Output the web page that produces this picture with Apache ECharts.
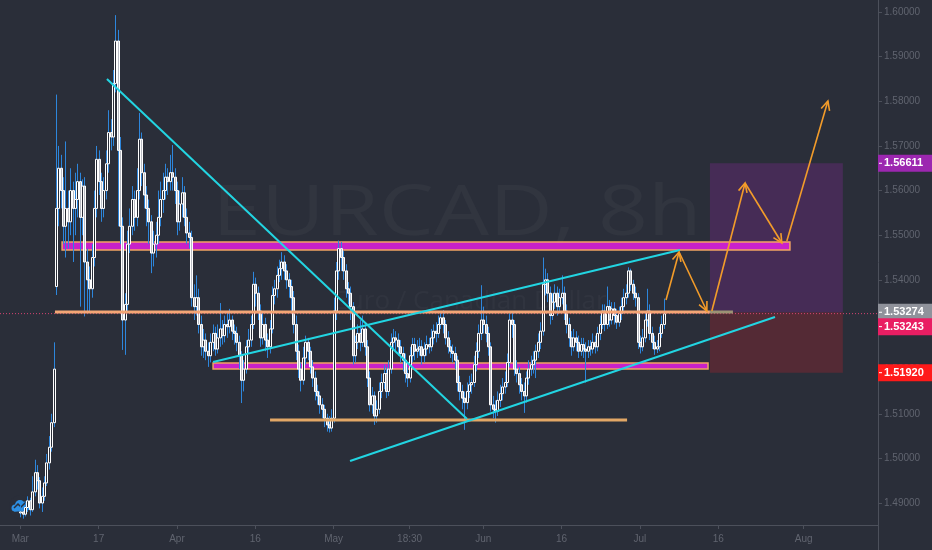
<!DOCTYPE html>
<html><head><meta charset="utf-8">
<script src="https://cdn.jsdelivr.net/npm/echarts@6/dist/echarts.min.js"></script>
<style>html,body{margin:0;padding:0;background:#2a2e39;}#c{width:932px;height:550px;}</style>
</head><body><div id="c"></div>
<script>
// ---- EURCAD 8h candles (index = 8h bar, weekends skipped) ----
const opens = [
1.4878,1.4880,1.4875,1.4890,1.4905,1.4885,1.4925,1.4968,1.4950,1.4900,
1.4915,1.4945,1.4990,1.5025,1.5080,1.5385,1.5560,1.5650,1.5600,1.5520,
1.5560,1.5530,1.5600,1.5560,1.5580,1.5620,1.5540,1.5610,1.5440,1.5400,
1.5380,1.5450,1.5560,1.5670,1.5620,1.5560,1.5600,1.5660,1.5730,1.5720,
1.5840,1.5935,1.5690,1.5520,1.5310,1.5345,1.5480,1.5520,1.5580,1.5540,
1.5600,1.5715,1.5640,1.5590,1.5560,1.5530,1.5460,1.5480,1.5500,1.5540,
1.5580,1.5600,1.5630,1.5620,1.5640,1.5630,1.5600,1.5530,1.5570,1.5595,
1.5540,1.5505,1.5495,1.5360,1.5340,1.5360,1.5300,1.5250,1.5265,1.5240,
1.5230,1.5260,1.5280,1.5245,1.5270,1.5290,1.5275,1.5300,1.5295,1.5310,
1.5285,1.5280,1.5260,1.5230,1.5175,1.5200,1.5250,1.5265,1.5300,1.5390,
1.5370,1.5330,1.5270,1.5300,1.5265,1.5250,1.5290,1.5365,1.5380,1.5410,
1.5425,1.5440,1.5420,1.5400,1.5385,1.5360,1.5300,1.5240,1.5200,1.5175,
1.5225,1.5260,1.5240,1.5205,1.5180,1.5150,1.5140,1.5120,1.5110,1.5090,
1.5075,1.5068,1.5090,1.5330,1.5420,1.5470,1.5450,1.5420,1.5380,1.5370,
1.5340,1.5230,1.5260,1.5280,1.5260,1.5290,1.5250,1.5180,1.5120,1.5140,
1.5095,1.5110,1.5150,1.5170,1.5190,1.5150,1.5200,1.5260,1.5270,1.5265,
1.5250,1.5235,1.5220,1.5190,1.5180,1.5230,1.5255,1.5240,1.5245,1.5250,
1.5230,1.5245,1.5255,1.5250,1.5270,1.5285,1.5280,1.5300,1.5315,1.5300,
1.5270,1.5250,1.5240,1.5235,1.5220,1.5170,1.5150,1.5135,1.5125,1.5150,
1.5165,1.5170,1.5210,1.5240,1.5280,1.5310,1.5300,1.5280,1.5250,1.5120,
1.5110,1.5105,1.5130,1.5145,1.5160,1.5170,1.5215,1.5310,1.5300,1.5200,
1.5190,1.5165,1.5150,1.5140,1.5180,1.5200,1.5210,1.5220,1.5240,1.5260,
1.5285,1.5390,1.5400,1.5370,1.5320,1.5350,1.5370,1.5340,1.5360,1.5370,
1.5330,1.5300,1.5270,1.5250,1.5270,1.5260,1.5240,1.5255,1.5245,1.5240,
1.5250,1.5245,1.5260,1.5250,1.5280,1.5300,1.5330,1.5300,1.5340,1.5310,
1.5335,1.5320,1.5305,1.5325,1.5340,1.5360,1.5370,1.5420,1.5390,1.5370,
1.5360,1.5260,1.5250,1.5270,1.5310,1.5330,1.5280,1.5260,1.5245,1.5250,
1.5280,1.5300];
const closes = [
1.4880,1.4875,1.4890,1.4905,1.4885,1.4925,1.4968,1.4950,1.4900,1.4915,
1.4945,1.4990,1.5025,1.5080,1.5200,1.5560,1.5650,1.5600,1.5520,1.5560,
1.5530,1.5600,1.5560,1.5580,1.5620,1.5540,1.5610,1.5440,1.5400,1.5380,
1.5450,1.5560,1.5670,1.5620,1.5560,1.5600,1.5660,1.5730,1.5720,1.5840,
1.5935,1.5690,1.5520,1.5310,1.5345,1.5480,1.5520,1.5580,1.5540,1.5600,
1.5715,1.5640,1.5590,1.5560,1.5530,1.5460,1.5480,1.5500,1.5540,1.5580,
1.5600,1.5630,1.5620,1.5640,1.5630,1.5600,1.5530,1.5570,1.5595,1.5540,
1.5505,1.5495,1.5360,1.5340,1.5360,1.5300,1.5250,1.5265,1.5240,1.5230,
1.5260,1.5280,1.5245,1.5270,1.5290,1.5275,1.5300,1.5295,1.5310,1.5285,
1.5280,1.5260,1.5230,1.5175,1.5200,1.5250,1.5265,1.5300,1.5390,1.5370,
1.5330,1.5270,1.5300,1.5265,1.5250,1.5290,1.5365,1.5380,1.5410,1.5425,
1.5440,1.5420,1.5400,1.5385,1.5360,1.5300,1.5240,1.5200,1.5175,1.5225,
1.5260,1.5240,1.5205,1.5180,1.5150,1.5140,1.5120,1.5110,1.5090,1.5075,
1.5068,1.5090,1.5330,1.5420,1.5470,1.5450,1.5420,1.5380,1.5370,1.5340,
1.5230,1.5260,1.5280,1.5260,1.5290,1.5250,1.5180,1.5120,1.5140,1.5095,
1.5110,1.5150,1.5170,1.5190,1.5150,1.5200,1.5260,1.5270,1.5265,1.5250,
1.5235,1.5220,1.5190,1.5180,1.5230,1.5255,1.5240,1.5245,1.5250,1.5230,
1.5245,1.5255,1.5250,1.5270,1.5285,1.5280,1.5300,1.5315,1.5300,1.5270,
1.5250,1.5240,1.5235,1.5220,1.5170,1.5150,1.5135,1.5125,1.5150,1.5165,
1.5170,1.5210,1.5240,1.5280,1.5310,1.5300,1.5280,1.5250,1.5120,1.5110,
1.5105,1.5130,1.5145,1.5160,1.5170,1.5215,1.5310,1.5300,1.5200,1.5190,
1.5165,1.5150,1.5140,1.5180,1.5200,1.5210,1.5220,1.5240,1.5260,1.5285,
1.5390,1.5400,1.5370,1.5320,1.5350,1.5370,1.5340,1.5360,1.5370,1.5330,
1.5300,1.5270,1.5250,1.5270,1.5260,1.5240,1.5255,1.5245,1.5240,1.5250,
1.5245,1.5260,1.5250,1.5280,1.5300,1.5330,1.5300,1.5340,1.5310,1.5335,
1.5320,1.5305,1.5325,1.5340,1.5360,1.5370,1.5420,1.5390,1.5370,1.5360,
1.5260,1.5250,1.5270,1.5310,1.5330,1.5280,1.5260,1.5245,1.5250,1.5280,
1.5300,1.5324];
const lows = [
1.4868,1.4865,1.4870,1.4880,1.4872,1.4880,1.4915,1.4930,1.4888,1.4880,
1.4905,1.4938,1.4975,1.5015,1.5070,1.5366,1.5520,1.5560,1.5480,1.5450,
1.5470,1.5500,1.5440,1.5500,1.5540,1.5340,1.5500,1.5318,1.5330,1.5330,
1.5360,1.5430,1.5540,1.5590,1.5530,1.5540,1.5580,1.5640,1.5690,1.5700,
1.5820,1.5520,1.5480,1.5243,1.5232,1.5330,1.5460,1.5500,1.5510,1.5520,
1.5580,1.5610,1.5560,1.5520,1.5480,1.5415,1.5430,1.5450,1.5480,1.5520,
1.5550,1.5580,1.5590,1.5600,1.5600,1.5570,1.5500,1.5510,1.5540,1.5520,
1.5480,1.5470,1.5340,1.5310,1.5320,1.5280,1.5230,1.5225,1.5220,1.5205,
1.5215,1.5240,1.5230,1.5235,1.5250,1.5255,1.5260,1.5270,1.5280,1.5265,
1.5255,1.5240,1.5200,1.5124,1.5150,1.5190,1.5235,1.5250,1.5290,1.5340,
1.5310,1.5250,1.5255,1.5240,1.5225,1.5235,1.5280,1.5345,1.5360,1.5395,
1.5400,1.5400,1.5380,1.5360,1.5330,1.5280,1.5220,1.5180,1.5150,1.5165,
1.5210,1.5220,1.5190,1.5160,1.5130,1.5120,1.5100,1.5090,1.5070,1.5060,
1.5058,1.5060,1.5080,1.5310,1.5400,1.5420,1.5400,1.5360,1.5345,1.5310,
1.5210,1.5215,1.5245,1.5240,1.5250,1.5230,1.5160,1.5105,1.5100,1.5075,
1.5080,1.5100,1.5135,1.5155,1.5135,1.5140,1.5190,1.5245,1.5240,1.5230,
1.5215,1.5195,1.5170,1.5160,1.5170,1.5215,1.5220,1.5225,1.5230,1.5210,
1.5215,1.5230,1.5235,1.5240,1.5255,1.5260,1.5270,1.5290,1.5280,1.5255,
1.5235,1.5225,1.5215,1.5200,1.5150,1.5130,1.5110,1.5064,1.5110,1.5135,
1.5145,1.5160,1.5195,1.5225,1.5265,1.5280,1.5260,1.5230,1.5105,1.5090,
1.5080,1.5095,1.5115,1.5130,1.5145,1.5160,1.5205,1.5270,1.5185,1.5170,
1.5145,1.5130,1.5102,1.5125,1.5165,1.5185,1.5190,1.5180,1.5225,1.5245,
1.5275,1.5365,1.5350,1.5300,1.5310,1.5335,1.5320,1.5330,1.5345,1.5310,
1.5280,1.5250,1.5230,1.5240,1.5240,1.5225,1.5230,1.5225,1.5170,1.5225,
1.5230,1.5235,1.5235,1.5240,1.5265,1.5290,1.5285,1.5290,1.5295,1.5300,
1.5300,1.5290,1.5295,1.5310,1.5325,1.5345,1.5360,1.5375,1.5355,1.5340,
1.5245,1.5235,1.5240,1.5260,1.5295,1.5265,1.5245,1.5232,1.5236,1.5240,
1.5270,1.5290];
const highs = [
1.4895,1.4890,1.4900,1.4915,1.4912,1.4960,1.4997,1.4985,1.4958,1.4935,
1.4960,1.5010,1.5050,1.5100,1.5260,1.5815,1.5700,1.5680,1.5630,1.5710,
1.5600,1.5650,1.5620,1.5640,1.5660,1.5640,1.5625,1.5630,1.5470,1.5430,
1.5480,1.5600,1.5700,1.5690,1.5640,1.5630,1.5690,1.5780,1.5760,1.5870,
1.5993,1.5960,1.5720,1.5540,1.5370,1.5510,1.5560,1.5610,1.5600,1.5650,
1.5774,1.5730,1.5660,1.5610,1.5580,1.5545,1.5510,1.5530,1.5600,1.5620,
1.5640,1.5660,1.5650,1.5680,1.5702,1.5650,1.5620,1.5600,1.5630,1.5610,
1.5560,1.5530,1.5510,1.5390,1.5410,1.5380,1.5320,1.5290,1.5280,1.5260,
1.5280,1.5300,1.5295,1.5300,1.5348,1.5310,1.5320,1.5330,1.5335,1.5320,
1.5300,1.5295,1.5275,1.5240,1.5220,1.5265,1.5290,1.5320,1.5418,1.5405,
1.5385,1.5345,1.5330,1.5315,1.5280,1.5310,1.5385,1.5400,1.5430,1.5445,
1.5462,1.5455,1.5435,1.5415,1.5400,1.5375,1.5320,1.5255,1.5215,1.5250,
1.5275,1.5270,1.5250,1.5220,1.5195,1.5165,1.5150,1.5135,1.5120,1.5100,
1.5095,1.5110,1.5360,1.5440,1.5488,1.5485,1.5465,1.5435,1.5395,1.5385,
1.5350,1.5275,1.5300,1.5310,1.5320,1.5300,1.5265,1.5195,1.5160,1.5150,
1.5130,1.5170,1.5190,1.5210,1.5205,1.5220,1.5280,1.5290,1.5285,1.5280,
1.5265,1.5250,1.5235,1.5205,1.5250,1.5270,1.5270,1.5265,1.5270,1.5265,
1.5260,1.5275,1.5270,1.5290,1.5300,1.5305,1.5320,1.5330,1.5332,1.5310,
1.5285,1.5265,1.5255,1.5250,1.5230,1.5185,1.5165,1.5150,1.5170,1.5185,
1.5190,1.5230,1.5260,1.5300,1.5388,1.5340,1.5320,1.5295,1.5260,1.5140,
1.5130,1.5150,1.5165,1.5180,1.5195,1.5235,1.5325,1.5330,1.5310,1.5220,
1.5205,1.5180,1.5170,1.5195,1.5220,1.5230,1.5240,1.5255,1.5280,1.5305,
1.5450,1.5425,1.5415,1.5385,1.5370,1.5390,1.5385,1.5380,1.5410,1.5385,
1.5345,1.5315,1.5285,1.5290,1.5285,1.5275,1.5270,1.5270,1.5260,1.5265,
1.5265,1.5280,1.5275,1.5295,1.5320,1.5345,1.5345,1.5385,1.5355,1.5350,
1.5350,1.5335,1.5340,1.5360,1.5380,1.5390,1.5428,1.5425,1.5400,1.5385,
1.5370,1.5275,1.5290,1.5330,1.5380,1.5345,1.5295,1.5275,1.5265,1.5295,
1.5320,1.5358];

// ---- axis ticks (bar index of the labelled session) ----
const xTickBars   = [0, 33, 66, 99, 132, 164, 195, 228, 261, 294, 330];
const xTickLabels = ['Mar','17','Apr','16','May','18:30','Jun','16','Jul','16','Aug'];
const yTicks = [1.49,1.50,1.51,1.52,1.53,1.54,1.55,1.56,1.57,1.58,1.59,1.60];

// ---- drawings (bar index, price) ----
const trendDown  = [[36.5, 1.58499], [188.2, 1.50883]];
const trendUpHi  = [[81.2, 1.52160], [277.9, 1.54668]];
const trendUpLo  = [[138.9, 1.49942], [317.9, 1.53168]];
const bandHigh   = [17.6, 324.2, 1.54668, 1.54848];
const bandLow    = [81.2, 289.7, 1.52003, 1.52137];
const levelMid   = [[14.6, 1.5328], [290.5, 1.5328]];
const levelMidEnd= [[290.5, 1.5328], [300.2, 1.5328]];
const levelLow   = [[105.2, 1.5086], [255.6, 1.5086]];
const posTool    = [290.5, 346.5];
const posTarget  = 1.56611, posEntry = 1.53274, posStop = 1.51920;
const lastPrice  = 1.53243;
const arrows = [
  [272.0, 1.53548, 277.5, 1.54624],
  [277.5, 1.54624, 289.2, 1.53302],
  [291.3, 1.53302, 305.3, 1.56169],
  [305.3, 1.56169, 320.8, 1.54825],
  [322.9, 1.54870, 340.2, 1.58006]
];
const priceTags = [posTarget, posEntry, lastPrice, posStop];

// ---- styles ----
const BG = '#2a2e39';
const tagColors = ['#9c27b0', '#8f929b', '#e91e63', '#ff1a1a'];
const tagShift  = [0, 0, 13, 0];
const X_MIN = -8.55, X_MAX = 361.3;

const candleData = opens.map((o, i) => [i, o, closes[i], lows[i], highs[i]]);

const chart = echarts.init(document.getElementById('c'), null, {renderer: 'canvas'});

function renderCandle(params, api) {
  const i = api.value(0), o = api.value(1), c = api.value(2), l = api.value(3), h = api.value(4);
  const pO = api.coord([i, o]), pC = api.coord([i, c]), pL = api.coord([i, l]), pH = api.coord([i, h]);
  const x = Math.round(pO[0]) + 0.5;
  const top = Math.min(pO[1], pC[1]), bot = Math.max(pO[1], pC[1]);
  return {
    type: 'group',
    children: [
      {type: 'line', shape: {x1: x, y1: pH[1], x2: x, y2: pL[1]}, style: {stroke: '#2d86dc', lineWidth: 1}},
      {type: 'rect', shape: {x: x - 1, y: top, width: 2, height: Math.max(bot - top, 1)},
       style: {fill: c >= o ? BG : '#b9bcc4', stroke: '#ffffff', lineWidth: 1}}
    ]
  };
}

function renderArrow(params, api) {
  const a = api.coord([api.value(0), api.value(1)]);
  const b = api.coord([api.value(2), api.value(3)]);
  const ang = Math.atan2(b[1] - a[1], b[0] - a[0]);
  const L = 10, spread = 0.45;
  const w1 = [b[0] - L * Math.cos(ang - spread), b[1] - L * Math.sin(ang - spread)];
  const w2 = [b[0] - L * Math.cos(ang + spread), b[1] - L * Math.sin(ang + spread)];
  const st = {stroke: '#f39c2a', lineWidth: 1.6, fill: null};
  return {type: 'group', children: [
    {type: 'line', shape: {x1: a[0], y1: a[1], x2: b[0], y2: b[1]}, style: st},
    {type: 'polyline', shape: {points: [w1, b, w2]}, style: st}
  ]};
}

function renderTag(params, api) {
  const p = api.coord([X_MAX, api.value(0)]);
  const k = params.dataIndex;
  const y = p[1] + tagShift[k];
  return {type: 'group', children: [
    {type: 'rect', shape: {x: p[0], y: y - 8.5, width: 54, height: 17}, style: {fill: tagColors[k]}},
    {type: 'line', shape: {x1: p[0] + 1, y1: y, x2: p[0] + 4, y2: y}, style: {stroke: '#ffffff', lineWidth: 1}},
    {type: 'text', x: p[0] + 6, y: y, style: {text: api.value(0).toFixed(5), fill: '#ffffff',
      font: 'bold 11px "Liberation Sans", Arial, sans-serif', verticalAlign: 'middle', align: 'left'}}
  ]};
}

function seg(data, color, width, z, type) {
  return {type: 'line', data: data, symbol: 'none', silent: true, z: z || 5,
    lineStyle: {color: color, width: width, type: type || 'solid'}, animation: false};
}

const option = {
  backgroundColor: BG,
  animation: false,
  grid: {left: 0, right: 54, top: 0, bottom: 25},
  xAxis: {
    type: 'value', min: X_MIN, max: X_MAX,
    splitLine: {show: false},
    axisLine: {show: true, onZero: false, lineStyle: {color: '#4c505b'}},
    axisTick: {show: true, length: 4, customValues: xTickBars, lineStyle: {color: '#4c505b'}},
    axisLabel: {customValues: xTickBars, margin: 9, color: '#60646f', fontSize: 10,
      fontFamily: '"Liberation Sans", Arial, sans-serif',
      formatter: v => xTickLabels[xTickBars.indexOf(Math.round(v))] || ''}
  },
  yAxis: {
    type: 'value', position: 'right', min: 1.48508, max: 1.60269,
    splitLine: {show: false},
    axisLine: {show: true, onZero: false, lineStyle: {color: '#4c505b'}},
    axisTick: {show: true, length: 4, customValues: yTicks, lineStyle: {color: '#4c505b'}},
    axisLabel: {customValues: yTicks, margin: 6, color: '#60646f', fontSize: 10,
      fontFamily: '"Liberation Sans", Arial, sans-serif',
      formatter: v => v.toFixed(5)}
  },
  graphic: [
    {type: 'text', x: 457, y: 215, scaleX: 1.25, z: 0, silent: true,
     style: {text: 'EURCAD, 8h', fill: 'rgba(255,255,255,0.035)', font: '70px "Open Sans", sans-serif',
       align: 'center', verticalAlign: 'middle'}},
    {type: 'text', x: 470, y: 302, z: 0, silent: true,
     style: {text: 'Euro / Canadian Dollar', fill: 'rgba(255,255,255,0.03)', font: '26px "Open Sans", sans-serif',
       align: 'center', verticalAlign: 'middle'}},
    {type: 'line', shape: {x1: 878.5, y1: 525, x2: 878.5, y2: 550}, style: {stroke: '#4c505b', lineWidth: 1}},
    {type: 'group', z: 100, children: [
      {type: 'circle', shape: {cx: 21, cy: 507, r: 12}, style: {fill: 'rgba(42,46,57,0.85)'}},
      {type: 'circle', shape: {cx: 15, cy: 508, r: 3.5}, style: {fill: '#2e8fe3'}},
      {type: 'circle', shape: {cx: 20, cy: 505, r: 5}, style: {fill: '#2e8fe3'}},
      {type: 'circle', shape: {cx: 26, cy: 506, r: 4.5}, style: {fill: '#2e8fe3'}},
      {type: 'rect', shape: {x: 14, y: 507, width: 14, height: 4.5}, style: {fill: '#2e8fe3'}},
      {type: 'polyline', shape: {points: [[14, 508], [18, 504], [21, 507], [25, 503], [28, 506]]},
       style: {stroke: BG, lineWidth: 1.5, fill: null}}
    ]}
  ],
  series: [
    {type: 'custom', name: 'EURCAD', renderItem: renderCandle, data: candleData, z: 2,
     encode: {x: 0, y: [1, 2, 3, 4]}, animation: false},
    seg([[X_MIN, lastPrice], [X_MAX, lastPrice]], 'rgba(228,70,120,0.9)', 1, 3, [1, 2]),
    {type: 'line', data: [], silent: true, z: 1, animation: false,
     markArea: {silent: true, data: [
       [{coord: [posTool[0], posTarget], itemStyle: {color: 'rgba(156,39,176,0.25)'}}, {coord: [posTool[1], posEntry]}],
       [{coord: [posTool[0], posEntry], itemStyle: {color: 'rgba(210,30,45,0.25)'}}, {coord: [posTool[1], posStop]}]
     ]}},
    {type: 'line', data: [], silent: true, z: 4, animation: false,
     markArea: {silent: true, itemStyle: {color: 'rgba(214,33,214,0.92)', borderColor: '#f2a463', borderWidth: 1.5},
       data: [
         [{coord: [bandHigh[0], bandHigh[3]]}, {coord: [bandHigh[1], bandHigh[2]]}],
         [{coord: [bandLow[0], bandLow[3]]}, {coord: [bandLow[1], bandLow[2]]}]
       ]}},
    seg(levelMid, '#f3a675', 3, 5),
    seg(levelMidEnd, '#9b9274', 3, 5),
    seg(levelLow, '#e2a766', 3, 5),
    seg(trendDown, '#22d5e2', 2, 6),
    seg(trendUpHi, '#22d5e2', 2, 6),
    seg(trendUpLo, '#22d5e2', 2, 6),
    {type: 'custom', renderItem: renderArrow, data: arrows, z: 7, animation: false, silent: true,
     encode: {x: [0, 2], y: [1, 3]}},
    {type: 'custom', renderItem: renderTag, data: priceTags.map(v => [v]), z: 20, animation: false,
     silent: true, encode: {y: 0}}
  ]
};
chart.setOption(option);
</script>
</body></html>
